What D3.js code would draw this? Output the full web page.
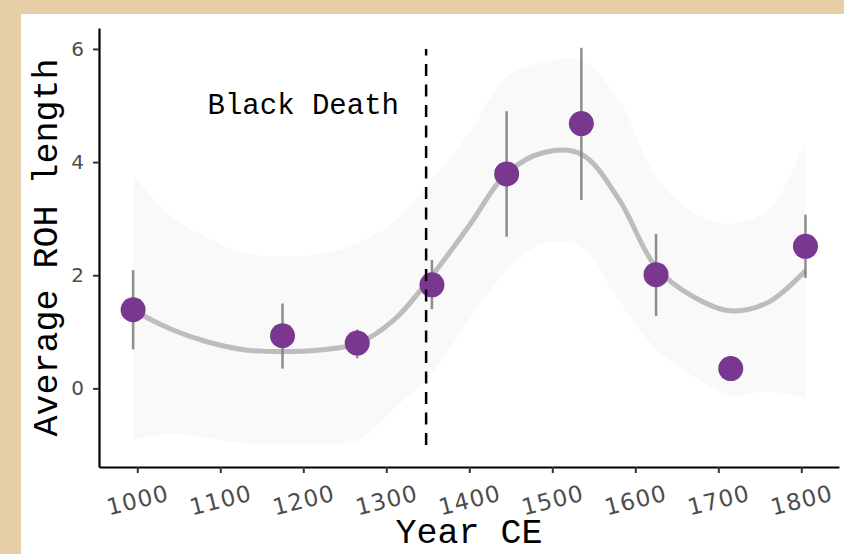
<!DOCTYPE html>
<html>
<head>
<meta charset="utf-8">
<script src="https://cdn.jsdelivr.net/npm/d3@7"></script>
<style>
  body { margin: 0; background: #e6cfa6; }
</style>
</head>
<body>
<div id="chart"></div>
<script>
/**
 * Data
 */
const sampleYears = [995, 1175, 1265, 1355, 1445, 1535, 1625, 1715, 1805];
const rohMean = [1.39, 0.93, 0.80, 1.83, 3.79, 4.68, 2.01, 0.35, 2.51];
const rohLow = [0.69, 0.35, 0.53, 1.40, 2.68, 3.33, 1.28, null, 1.95];
const rohHigh = [2.09, 1.50, 1.04, 2.27, 4.90, 6.02, 2.73, null, 3.07];

// loess fit and its confidence band
const fitYears = [995, 1040, 1085, 1130, 1175, 1220, 1265, 1310, 1355, 1400,
  1445, 1490, 1535, 1580, 1625, 1670, 1715, 1760, 1805];
const fitMean = [1.38, 1.05, 0.82, 0.68, 0.65, 0.68, 0.79, 1.22, 1.99, 2.88,
  3.80, 4.17, 4.14, 3.35, 2.14, 1.62, 1.37, 1.52, 2.08];
const fitLower = [-0.92, -0.80, -0.88, -0.97, -0.98, -0.97, -0.92, -0.35, 0.27, 1.22,
  2.09, 2.57, 2.50, 1.55, 0.70, 0.21, -0.12, -0.05, -0.18];
const fitUpper = [3.77, 3.05, 2.66, 2.39, 2.33, 2.38, 2.56, 2.95, 3.69, 4.52,
  5.50, 5.77, 5.80, 5.10, 3.75, 3.10, 2.91, 3.15, 4.37];

const xTicks = [1000, 1100, 1200, 1300, 1400, 1500, 1600, 1700, 1800];
const yTicks = [0, 2, 4, 6];

const blackDeathYear = 1348;
const blackDeathLabel = "Black Death";

/**
 * Basic settings
 */
const canvasWidth = 844;
const canvasHeight = 554;
const plotLeft = 99;
const plotRight = 839;
const plotTop = 28;
const plotBottom = 467;

const svg = d3.select("#chart")
  .append("svg")
  .attr("width", canvasWidth)
  .attr("height", canvasHeight)
  .style("display", "block");

svg.append("rect")
  .attr("width", canvasWidth)
  .attr("height", canvasHeight)
  .attr("fill", "#e6cfa6");

svg.append("rect")
  .attr("x", 21)
  .attr("y", 14)
  .attr("width", canvasWidth - 21)
  .attr("height", canvasHeight - 14)
  .attr("fill", "#ffffff");

/**
 * Scales
 */
const xScale = d3.scaleLinear()
  .domain([953.9, 1845.4])
  .range([plotLeft, plotRight]);

const yScale = d3.scaleLinear()
  .domain([-1.39, 6.37])
  .range([plotBottom, plotTop]);

const fitData = fitYears.map((yr, i) => ({
  year: yr, mean: fitMean[i], lo: fitLower[i], hi: fitUpper[i]
}));

const pointData = sampleYears.map((yr, i) => ({
  year: yr, mean: rohMean[i], lo: rohLow[i], hi: rohHigh[i]
}));

/**
 * Confidence band + smooth line
 */
const band = d3.area()
  .x(d => xScale(d.year))
  .y0(d => yScale(d.lo))
  .y1(d => yScale(d.hi))
  .curve(d3.curveCatmullRom.alpha(0.5));

svg.append("path")
  .datum(fitData)
  .attr("d", band)
  .attr("fill", "#f9f9f9");

const smooth = d3.line()
  .x(d => xScale(d.year))
  .y(d => yScale(d.mean))
  .curve(d3.curveCatmullRom.alpha(0.5));

svg.append("path")
  .datum(fitData)
  .attr("d", smooth)
  .attr("fill", "none")
  .attr("stroke", "#bdbdbd")
  .attr("stroke-width", 5);

/**
 * Error bars and points
 */
svg.append("g")
  .selectAll("line")
  .data(pointData.filter(d => d.lo !== null))
  .join("line")
  .attr("x1", d => xScale(d.year))
  .attr("x2", d => xScale(d.year))
  .attr("y1", d => yScale(d.lo))
  .attr("y2", d => yScale(d.hi))
  .attr("stroke", "#7a7a7a")
  .attr("stroke-opacity", 0.85)
  .attr("stroke-width", 2.5);

svg.append("g")
  .selectAll("circle")
  .data(pointData)
  .join("circle")
  .attr("cx", d => xScale(d.year))
  .attr("cy", d => yScale(d.mean))
  .attr("r", 12.5)
  .attr("fill", "#7a378f");

/**
 * Black Death marker
 */
svg.append("line")
  .attr("x1", xScale(blackDeathYear))
  .attr("x2", xScale(blackDeathYear))
  .attr("y1", yScale(-1))
  .attr("y2", yScale(6))
  .attr("stroke", "#000")
  .attr("stroke-width", 2.5)
  .attr("stroke-dasharray", "12,8.5");

svg.append("text")
  .attr("x", xScale(1200))
  .attr("y", yScale(5) + 8)
  .attr("text-anchor", "middle")
  .style("font-family", "'Liberation Mono', 'Courier New', monospace")
  .style("font-size", "29px")
  .attr("fill", "#000")
  .text(blackDeathLabel);

/**
 * Axes
 */
const xAxis = d3.axisBottom(xScale)
  .tickValues(xTicks)
  .tickFormat(d3.format("d"))
  .tickSize(6)
  .tickSizeOuter(0);

const xg = svg.append("g")
  .attr("transform", "translate(0," + plotBottom + ")")
  .call(xAxis);

xg.select(".domain").attr("stroke", "#000").attr("stroke-width", 2.2);
xg.selectAll(".tick line").attr("stroke", "#333").attr("stroke-width", 2);
xg.selectAll(".tick text")
  .attr("y", 0)
  .attr("dy", 0)
  .attr("text-anchor", "middle")
  .attr("dominant-baseline", "central")
  .attr("transform", "translate(0,33) rotate(-14)")
  .style("font-family", "'DejaVu Sans', sans-serif")
  .style("font-size", "23px")
  .style("letter-spacing", "1.2px")
  .attr("fill", "#4d4d4d");

const yAxis = d3.axisLeft(yScale)
  .tickValues(yTicks)
  .tickSize(6)
  .tickSizeOuter(0);

const yg = svg.append("g")
  .attr("transform", "translate(" + plotLeft + ",0)")
  .call(yAxis);

yg.select(".domain").attr("stroke", "#000").attr("stroke-width", 2.2);
yg.selectAll(".tick line").attr("stroke", "#333").attr("stroke-width", 2);
yg.selectAll(".tick text")
  .attr("x", -15)
  .style("font-family", "'DejaVu Sans', sans-serif")
  .style("font-size", "20px")
  .attr("fill", "#4d4d4d");

// axis titles
svg.append("text")
  .attr("transform", "translate(57," + ((plotTop + plotBottom) / 2) + ") rotate(-90)")
  .attr("text-anchor", "middle")
  .style("font-family", "'Liberation Mono', 'Courier New', monospace")
  .style("font-size", "35px")
  .attr("fill", "#000")
  .text("Average ROH length");

svg.append("text")
  .attr("x", (plotLeft + plotRight) / 2)
  .attr("y", 543)
  .attr("text-anchor", "middle")
  .style("font-family", "'Liberation Mono', 'Courier New', monospace")
  .style("font-size", "35px")
  .attr("fill", "#000")
  .text("Year CE");
</script>
</body>
</html>
